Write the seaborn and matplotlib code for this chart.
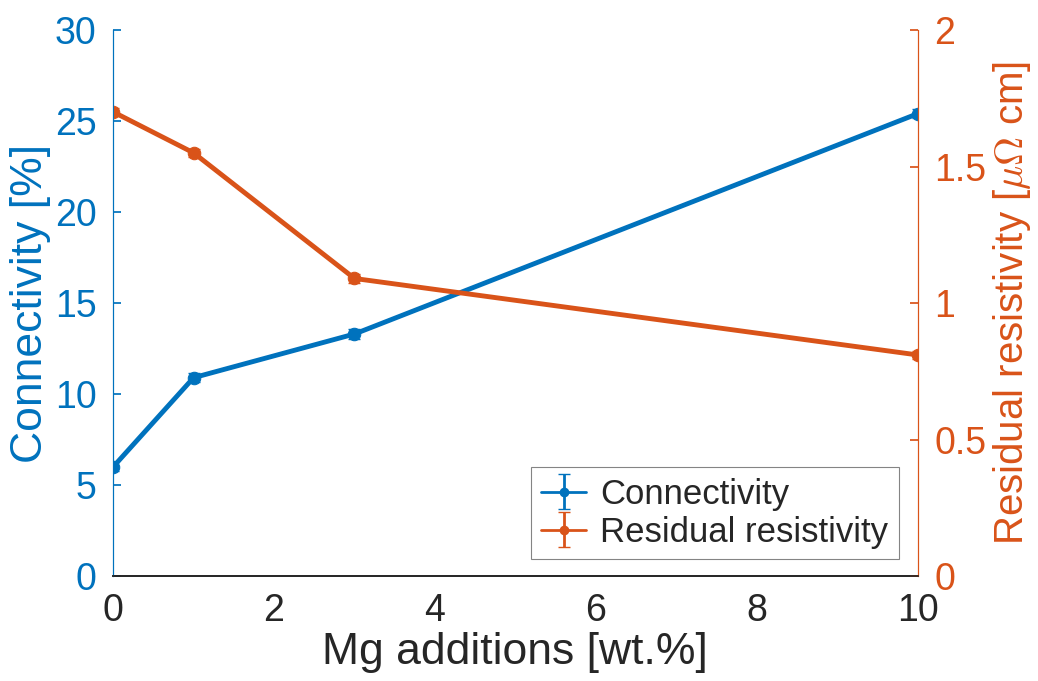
import numpy as np
import pandas as pd
import matplotlib
matplotlib.use('Agg')
import matplotlib.pyplot as plt
import seaborn as sns

mg_wt = [0, 1, 3, 10]
connectivity = [6.0, 10.9, 13.3, 25.4]
connectivity_err = [0.25, 0.25, 0.25, 0.25]
resistivity = [1.70, 1.55, 1.09, 0.81]
resistivity_err = [0.015, 0.015, 0.015, 0.015]

blue = '#0072BD'
orange = '#D95319'

sns.set_theme(style="white")
plt.rcParams['font.family'] = ['Liberation Sans', 'DejaVu Sans']
plt.rcParams['mathtext.fontset'] = 'cm'

df = pd.DataFrame({'mg': mg_wt, 'conn': connectivity, 'conn_err': connectivity_err,
                   'res': resistivity, 'res_err': resistivity_err})

fig = plt.figure(figsize=(10.38, 6.81), dpi=100)
ax = fig.add_axes([0.109, 0.154, 0.775, 0.802])
ax2 = ax.twinx()

sns.lineplot(data=df, x='mg', y='conn', ax=ax, color=blue, lw=3.5, marker='o',
             markersize=9, markeredgecolor=blue, legend=False)
h1 = ax.errorbar(df['mg'], df['conn'], yerr=df['conn_err'], color=blue, lw=2,
                 capsize=4, marker='o', markersize=6, label='Connectivity')
sns.lineplot(data=df, x='mg', y='res', ax=ax2, color=orange, lw=3.5, marker='o',
             markersize=9, markeredgecolor=orange, legend=False)
h2 = ax2.errorbar(df['mg'], df['res'], yerr=df['res_err'], color=orange, lw=2,
                  capsize=4, marker='o', markersize=6, label='Residual resistivity')

ax.set_xlim(0, 10)
ax.set_ylim(0, 30)
ax2.set_ylim(0, 2)
ax.set_xticks([0, 2, 4, 6, 8, 10])
ax.set_yticks([0, 5, 10, 15, 20, 25, 30])
ax2.set_yticks([0, 0.5, 1, 1.5, 2])
ax2.set_yticklabels(['0', '0.5', '1', '1.5', '2'])

ax.set_xlabel('Mg additions [wt.%]', fontsize=32, color='#262626', labelpad=2)
ax.set_ylabel('Connectivity [%]', fontsize=32, color=blue, labelpad=3)
ax2.set_ylabel(r'Residual resistivity [$\mu\Omega$ cm]', fontsize=29, color=orange, labelpad=3)

ax.tick_params(axis='x', direction='in', labelsize=27, colors='#262626', length=6, pad=12)
ax.tick_params(axis='y', direction='in', labelsize=27, colors=blue, length=6, pad=12)
ax2.tick_params(axis='y', direction='in', labelsize=27, colors=orange, length=6, pad=12)

for a in (ax, ax2):
    a.spines['top'].set_visible(False)
    a.spines['bottom'].set_color('#262626')
    a.spines['left'].set_color(blue)
    a.spines['right'].set_color(orange)
    a.spines['left'].set_linewidth(0.8)
    a.spines['right'].set_linewidth(0.8)

leg = ax2.legend([h1, h2], ['Connectivity', 'Residual resistivity'], loc='lower right',
                 fontsize=25, frameon=True, fancybox=False, edgecolor='#666666',
                 handlelength=1.3, handletextpad=0.4, borderpad=0.3, labelspacing=0.15,
                 borderaxespad=0.2, bbox_to_anchor=(0.985, 0.018))
leg.get_frame().set_linewidth(0.8)

fig.savefig('out.png', dpi=100)
